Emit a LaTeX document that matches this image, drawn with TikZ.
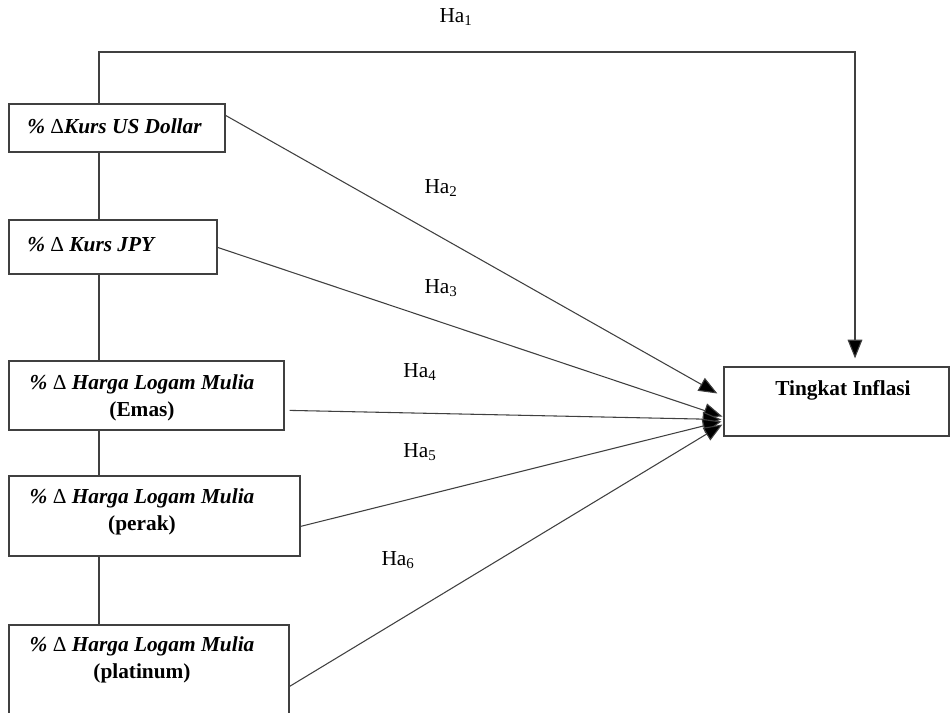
\documentclass[tikz,border=0pt]{standalone}
\usepackage{fontspec}
\setmainfont{Liberation Serif}
\usetikzlibrary{arrows.meta,calc,fit}
\newcommand{\dlt}{{\upshape\mdseries Δ}}
\begin{document}
\begin{tikzpicture}[x=0.75pt,y=-0.75pt,
  box/.style={draw=black!75,line width=0.9pt,inner sep=0pt,fill=white},
  varlbl/.style={font=\fontsize{16}{20}\selectfont\bfseries\itshape,inner sep=0pt,align=center},
  hlbl/.style={font=\fontsize{16}{19}\selectfont,inner sep=0pt},
  conn/.style={draw=black!75,line width=0.8pt},
  arr/.style={conn,-{Triangle[length=14pt,width=11pt,fill=black]}}]
\useasboundingbox (0,0) rectangle (950,713);
\clip (0,0) rectangle (950,713);
% boxes
\node[box,fit={(9,104) (225,152)}] (usd) {};
\node[box,fit={(9,220) (217,274)}] (jpy) {};
\node[box,fit={(9,361) (284,430)}] (emas) {};
\node[box,fit={(9,476) (300,556)}] (perak) {};
\node[box,fit={(9,625) (289,730)}] (plat) {};
\node[box,fit={(724,367) (949,436)}] (infl) {};
% texts
\node[varlbl,anchor=west] (tusd) at (27,126) {\% \dlt Kurs US Dollar};
\node[varlbl,anchor=west] (tjpy) at (27,245) {\% \dlt{} Kurs JPY};
\node[varlbl] (temas) at (142,398) {\% \dlt{} Harga Logam Mulia\\\upshape (Emas)};
\node[varlbl] (tperak) at (142,512) {\% \dlt{} Harga Logam Mulia\\\upshape (perak)};
\node[varlbl] (tplat) at (142,660) {\% \dlt{} Harga Logam Mulia\\\upshape (platinum)};
\node[font=\fontsize{16}{20}\selectfont\bfseries,inner sep=0pt] (tinfl) at (843,390) {Tingkat Inflasi};
% hypothesis labels
\node[hlbl] (h1) at (456,17) {Ha\textsubscript{1}};
\node[hlbl] (h2) at (441,188) {Ha\textsubscript{2}};
\node[hlbl] (h3) at (441,288) {Ha\textsubscript{3}};
\node[hlbl] (h4) at (420,372) {Ha\textsubscript{4}};
\node[hlbl] (h5) at (420,452) {Ha\textsubscript{5}};
\node[hlbl] (h6) at (398,560) {Ha\textsubscript{6}};
% spine
\coordinate (top) at (99,52);
\coordinate (tr) at (855,52);
\draw[conn] (usd.south -| top) -- (jpy.north -| top);
\draw[conn] (jpy.south -| top) -- (emas.north -| top);
\draw[conn] (emas.south -| top) -- (perak.north -| top);
\draw[conn] (perak.south -| top) -- (plat.north -| top);
\draw[arr] (usd.north -| top) -- (top) -- (tr) -- ($(infl.north -| tr)+(0,-8)$);
% arrows
\coordinate (t1) at ($(infl.west)+(-6,-8)$);
\coordinate (t2) at ($(infl.west)+(-1,15)$);
\coordinate (t3) at ($(infl.west)+(-2,18)$);
\coordinate (t4) at ($(infl.west)+(-2,20)$);
\coordinate (t5) at ($(infl.west)+(-1,23)$);
\draw[arr] ($(usd.north east)+(0,12)$) -- (t1);
\draw[arr] ($(jpy.north east)+(0,28)$) -- (t2);
\draw[arr] ($(emas.north east)+(5,50)$) -- (t3);
\draw[arr] ($(perak.north east)+(0,51)$) -- (t4);
\draw[arr] ($(plat.north east)+(0,62)$) -- (t5);
\end{tikzpicture}
\end{document}
